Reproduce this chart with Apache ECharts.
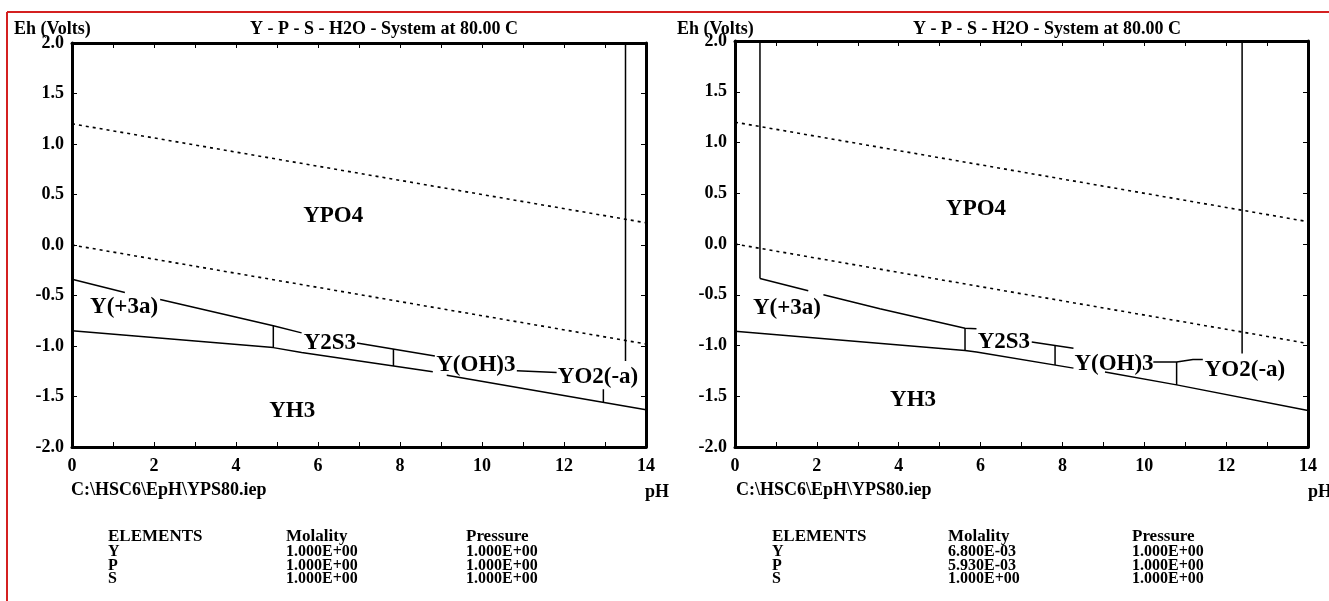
<!DOCTYPE html>
<html>
<head>
<meta charset="utf-8">
<script src="https://cdn.jsdelivr.net/npm/echarts@6/dist/echarts.min.js"></script>
<style>
  html, body { margin: 0; padding: 0; background: #ffffff; }
  #chart { width: 1329px; height: 601px; }
</style>
</head>
<body>
<div id="chart"></div>
<script>
// ---------------- DATA ----------------
const pHTicks = [0, 2, 4, 6, 8, 10, 12, 14];
const ehTicks = [2.0, 1.5, 1.0, 0.5, 0.0, -0.5, -1.0, -1.5, -2.0];

const chartTitle = 'Y - P - S - H2O - System at 80.00 C';
const yAxisTitle = 'Eh (Volts)';
const xAxisTitle = 'pH';
const fileName = 'C:\\HSC6\\EpH\\YPS80.iep';

// water stability lines (dotted)
const waterUpper = [[0, 1.20], [14, 0.22]];
const waterLower = [[0, 0.00], [14, -0.98]];

// Left diagram boundaries (null = break in line)
const leftUpper = [[0, -0.34], [1.29, -0.47], null, [2.15, -0.54], [4.91, -0.80], [5.60, -0.87], null,
                   [6.95, -0.97], [8.85, -1.10], null, [10.85, -1.246], [11.82, -1.262]];
const leftLower = [[0, -0.85], [4.91, -1.016], [5.60, -1.065], [8.80, -1.256], null,
                   [9.14, -1.289], [14.0, -1.632]];
const leftVerticals = [
  [[4.91, -0.80], [4.91, -1.016]],
  [[7.84, -1.03], [7.84, -1.199]],
  [[12.96, -1.427], [12.96, -1.558]],
  [[13.5, 2.0], [13.5, -1.148]]
];
const leftLabels = [
  ['YPO4', 6.37, 0.29],
  ['Y(+3a)', 1.27, -0.61],
  ['Y2S3', 6.29, -0.97],
  ['YH3', 5.37, -1.64],
  ['Y(OH)3', 9.85, -1.19],
  ['YO2(-a)', 12.83, -1.31]
];

// Right diagram boundaries
const rightUpper = [[0.61, -0.34], [1.79, -0.46], null, [2.16, -0.50], [3.54, -0.637], [5.62, -0.83], [5.90, -0.835], null,
                    [7.25, -0.966], [8.27, -1.026], null, [10.22, -1.163], [10.79, -1.163], [11.19, -1.138], [11.43, -1.138]];
const rightLower = [[0, -0.86], [5.62, -1.049], [5.90, -1.065], [8.27, -1.223], null,
                    [9.04, -1.262], [10.79, -1.388], [14.0, -1.641]];
const rightVerticals = [
  [[0.61, 2.0], [0.61, -0.34]],
  [[5.62, -0.83], [5.62, -1.049]],
  [[7.82, -1.0], [7.82, -1.193]],
  [[10.79, -1.163], [10.79, -1.388]],
  [[12.39, 2.0], [12.39, -1.08]]
];
const rightLabels = [
  ['YPO4', 5.89, 0.345],
  ['Y(+3a)', 1.27, -0.63],
  ['Y2S3', 6.57, -0.97],
  ['YH3', 4.35, -1.54],
  ['Y(OH)3', 9.26, -1.18],
  ['YO2(-a)', 12.46, -1.24]
];

// Element tables
const tableHeaders = ['ELEMENTS', 'Molality', 'Pressure'];
const elements = ['Y', 'P', 'S'];
const leftMolality = ['1.000E+00', '1.000E+00', '1.000E+00'];
const leftPressure = ['1.000E+00', '1.000E+00', '1.000E+00'];
const rightMolality = ['6.800E-03', '5.930E-03', '1.000E+00'];
const rightPressure = ['1.000E+00', '1.000E+00', '1.000E+00'];

// ---------------- STYLE ----------------
const FONT = '"Liberation Serif", "Times New Roman", serif';
const BLACK = '#000000';

const grids = [
  { left: 72, top: 43, width: 574, height: 404 },
  { left: 735, top: 41, width: 573, height: 406 }
];

function xAxisDef(gi, pos) {
  return {
    type: 'value', gridIndex: gi, position: pos, min: 0, max: 14, interval: 1,
    axisLine: { show: true, onZero: false, lineStyle: { color: BLACK, width: 3 } },
    axisTick: { show: true, inside: true, length: 5, lineStyle: { color: BLACK, width: 1 } },
    axisLabel: {
      show: pos === 'bottom', margin: 10, color: BLACK, fontFamily: FONT, fontWeight: 'bold', fontSize: 18,
      formatter: v => (pHTicks.indexOf(v) >= 0 ? String(v) : '')
    },
    splitLine: { show: false }
  };
}
function yAxisDef(gi, pos) {
  return {
    type: 'value', gridIndex: gi, position: pos, min: -2, max: 2, interval: 0.5,
    axisLine: { show: true, onZero: false, lineStyle: { color: BLACK, width: 3 } },
    axisTick: { show: true, inside: true, length: 5, lineStyle: { color: BLACK, width: 1 } },
    axisLabel: {
      show: pos === 'left', margin: 8, color: BLACK, fontFamily: FONT, fontWeight: 'bold', fontSize: 18,
      formatter: v => (ehTicks.some(t => Math.abs(t - v) < 1e-9) ? v.toFixed(1) : '')
    },
    splitLine: { show: false }
  };
}

const series = [];
function addPolyline(points, xi, yi, dotted) {
  let seg = [];
  const flush = () => {
    if (seg.length > 1) {
      series.push({
        type: 'line', xAxisIndex: xi, yAxisIndex: yi, data: seg, symbol: 'none',
        silent: true, animation: false,
        lineStyle: { color: BLACK, width: dotted ? 1.6 : 1.5, type: dotted ? [3, 4] : 'solid' }
      });
    }
    seg = [];
  };
  points.forEach(p => { if (p === null) flush(); else seg.push(p); });
  flush();
}
function addLabels(labels, xi, yi) {
  series.push({
    type: 'scatter', xAxisIndex: xi, yAxisIndex: yi, symbol: 'circle', symbolSize: 1, silent: true, animation: false,
    itemStyle: { color: 'rgba(0,0,0,0)' },
    data: labels.map(l => ({ name: l[0], value: [l[1], l[2]] })),
    label: {
      show: true, position: 'inside', formatter: p => p.name, color: BLACK, opacity: 1,
      textBorderWidth: 0, textShadowBlur: 0,
      fontFamily: FONT, fontWeight: 'bold', fontSize: 23
    }
  });
}

// chart 0 uses xAxis 0 / yAxis 0 ; chart 1 uses xAxis 2 / yAxis 2
[[0, leftUpper, leftLower, leftVerticals, leftLabels], [2, rightUpper, rightLower, rightVerticals, rightLabels]]
  .forEach(([ai, up, low, verts, labs]) => {
    addPolyline(waterUpper, ai, ai, true);
    addPolyline(waterLower, ai, ai, true);
    addPolyline(up, ai, ai, false);
    addPolyline(low, ai, ai, false);
    verts.forEach(v => addPolyline(v, ai, ai, false));
    addLabels(labs, ai, ai);
  });

// ---------------- TEXT GRAPHICS ----------------
const graphics = [];
// red frame
graphics.push({ type: 'line', silent: true, shape: { x1: 7, y1: 12, x2: 1329, y2: 12 }, style: { stroke: '#d42020', lineWidth: 2 } });
graphics.push({ type: 'line', silent: true, shape: { x1: 7, y1: 12, x2: 7, y2: 601 }, style: { stroke: '#d42020', lineWidth: 2 } });

function t(text, x, y, size) {
  return { type: 'text', silent: true, style: { text: text, x: x, y: y, fill: BLACK, font: 'bold ' + size + 'px ' + FONT, textVerticalAlign: 'middle' } };
}
function panelText(titleX, eX, pathX, pHX, colX, mol, pres) {
  const items = [];
  items.push(t(yAxisTitle, eX, 29, 18));
  items.push(t(chartTitle, titleX, 29, 18));
  items.push(t(fileName, pathX, 490, 18));
  items.push(t(xAxisTitle, pHX, 492, 18));
  tableHeaders.forEach((h, i) => items.push(t(h, colX[i], 537, 17)));
  elements.forEach((e, r) => {
    const y = 552 + r * 13.5;
    items.push(t(e, colX[0], y, 16));
    items.push(t(mol[r], colX[1], y, 16));
    items.push(t(pres[r], colX[2], y, 16));
  });
  return items;
}
graphics.push(...panelText(250, 14, 71, 645, [108, 286, 466], leftMolality, leftPressure));
graphics.push(...panelText(913, 677, 736, 1308, [772, 948, 1132], rightMolality, rightPressure));

const option = {
  backgroundColor: '#ffffff',
  animation: false,
  grid: grids,
  xAxis: [xAxisDef(0, 'bottom'), xAxisDef(0, 'top'), xAxisDef(1, 'bottom'), xAxisDef(1, 'top')],
  yAxis: [yAxisDef(0, 'left'), yAxisDef(0, 'right'), yAxisDef(1, 'left'), yAxisDef(1, 'right')],
  series: series,
  graphic: graphics
};

const chart = echarts.init(document.getElementById('chart'), null, { renderer: 'canvas' });
chart.setOption(option);
</script>
</body>
</html>
